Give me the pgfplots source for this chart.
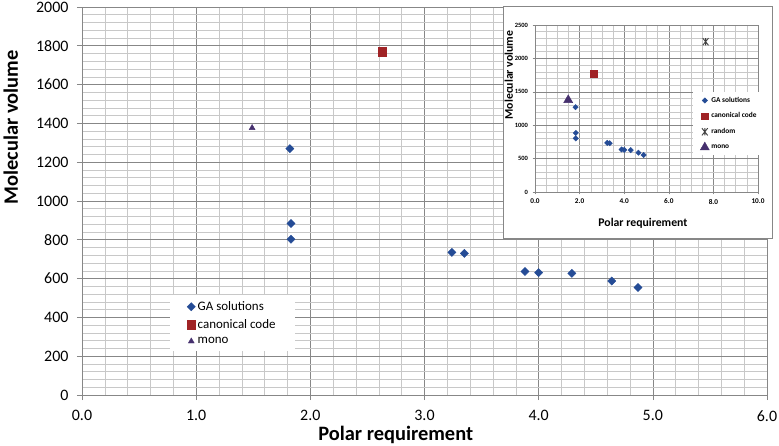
\documentclass[border=0pt]{standalone}
\usepackage{pgfplots}
\pgfplotsset{compat=1.18}
\usepackage{fontspec}
\setmainfont{Carlito}
\definecolor{gablue}{RGB}{37,76,150}
\definecolor{canred}{RGB}{160,35,38}
\definecolor{monopurple}{RGB}{70,48,110}
\definecolor{majgrid}{RGB}{135,135,135}
\definecolor{mingrid}{RGB}{200,200,200}
\pgfdeclareplotmark{xstar}{%
  \pgfpathmoveto{\pgfqpoint{-0.8\pgfplotmarksize}{-\pgfplotmarksize}}%
  \pgfpathlineto{\pgfqpoint{0.8\pgfplotmarksize}{\pgfplotmarksize}}%
  \pgfpathmoveto{\pgfqpoint{-0.8\pgfplotmarksize}{\pgfplotmarksize}}%
  \pgfpathlineto{\pgfqpoint{0.8\pgfplotmarksize}{-\pgfplotmarksize}}%
  \pgfpathmoveto{\pgfqpoint{0pt}{-\pgfplotmarksize}}%
  \pgfpathlineto{\pgfqpoint{0pt}{\pgfplotmarksize}}%
  \pgfusepathqstroke}
\pgfplotsset{
  dotlegend/.style={legend image code/.code={\draw[##1] plot coordinates {(0cm,0cm)};}},
}
\begin{document}
\begin{tikzpicture}
\path[use as bounding box] (0bp,0bp) rectangle (779bp,446bp);
% ---------------- main chart ----------------
\begin{axis}[
  at={(82bp,51bp)}, anchor=south west, scale only axis,
  width=685bp, height=388bp,
  xmin=0, xmax=6, ymin=0, ymax=2000,
  xtick={0,1,...,6}, ytick={0,200,...,2000},
  minor x tick num=4, minor y tick num=4,
  grid=both,
  major grid style={draw=majgrid, line width=0.6bp},
  minor grid style={draw=mingrid, line width=0.6bp},
  axis lines*=left,
  axis line style={draw=majgrid, line width=0.8bp},
  tick align=outside, major tick length=5bp, minor tick length=0pt,
  tick style={draw=majgrid, line width=0.6bp},
  /pgf/number format/assume math mode=true,
  xticklabel style={font=\fontsize{16}{16}\selectfont, yshift=-7bp,
    /pgf/number format/fixed, /pgf/number format/fixed zerofill,
    /pgf/number format/precision=1},
  yticklabel style={font=\fontsize{16}{16}\selectfont, xshift=-5bp,
    /pgf/number format/1000 sep={}},
  xlabel={Polar requirement},
  xlabel style={at={(axis description cs:0.458,-0.103)}, anchor=center,
    font=\fontsize{20.5}{20.5}\selectfont\bfseries},
  ylabel={Molecular volume},
  ylabel style={at={(axis description cs:-0.104,0.69)}, anchor=center,
    font=\fontsize{20.5}{20.5}\selectfont\bfseries},
  legend cell align=left,
  legend style={at={(axis description cs:0.128,0.257)}, anchor=north west,
    draw=none, fill=white, font=\fontsize{13}{15}\selectfont,
    row sep=3.5bp, inner xsep=17bp, inner ysep=4bp},
]
\addplot[only marks, mark=square*, mark options={rotate=45}, mark size=2.9bp, color=gablue, dotlegend]
  coordinates {(1.82,1270) (1.83,884) (1.83,803) (3.24,735) (3.35,730)
               (3.88,637) (4.00,631) (4.29,627) (4.64,588) (4.87,554)};
\addlegendentry{GA solutions}
\addplot[only marks, mark=square*, mark size=4.4bp, color=canred, dotlegend]
  coordinates {(2.63,1769)};
\addlegendentry{canonical code}
\addplot[only marks, mark=triangle*, mark size=3.4bp, color=monopurple, dotlegend]
  coordinates {(1.49,1377)};
\addlegendentry{mono}
\end{axis}
% ---------------- inset chart ----------------
\fill[white] (503bp,208bp) rectangle (772bp,440bp);
\draw[draw=majgrid, line width=0.7bp] (503bp,208bp) rectangle (772bp,440bp);
\begin{axis}[
  at={(535bp,254bp)}, anchor=south west, scale only axis,
  width=223bp, height=167bp,
  xmin=0, xmax=10, ymin=0, ymax=2500,
  xtick={0,2,...,10}, ytick={0,500,...,2500},
  minor x tick num=3, minor y tick num=4,
  grid=both,
  major grid style={draw=majgrid, line width=0.5bp},
  minor grid style={draw=mingrid, line width=0.5bp},
  axis lines*=left,
  axis line style={draw=majgrid, line width=0.6bp},
  tick align=outside, major tick length=2.5bp, minor tick length=0pt,
  tick style={draw=majgrid, line width=0.5bp},
  /pgf/number format/assume math mode=true,
  xticklabel style={font=\fontsize{7.3}{7.3}\selectfont\bfseries, yshift=-1bp,
    /pgf/number format/fixed, /pgf/number format/fixed zerofill,
    /pgf/number format/precision=1},
  yticklabel style={font=\fontsize{6.5}{6.5}\selectfont\bfseries, xshift=-1bp,
    /pgf/number format/1000 sep={}},
  xlabel={Polar requirement},
  xlabel style={at={(axis description cs:0.484,-0.186)}, anchor=center,
    font=\fontsize{11.8}{11.8}\selectfont\bfseries},
  ylabel={Molecular volume},
  ylabel style={at={(axis description cs:-0.118,0.70)}, anchor=center,
    font=\fontsize{11.8}{11.8}\selectfont\bfseries},
  legend cell align=left,
  legend style={at={(axis description cs:0.709,0.599)}, anchor=north west,
    draw=none, fill=white, font=\fontsize{7.4}{9}\selectfont\bfseries,
    row sep=5bp, inner xsep=7bp, inner ysep=3bp},
]
\addplot[only marks, mark=square*, mark options={rotate=45}, mark size=1.9bp, color=gablue, dotlegend]
  coordinates {(1.82,1270) (1.83,884) (1.83,803) (3.24,735) (3.35,730)
               (3.88,637) (4.00,631) (4.29,627) (4.64,588) (4.87,554)};
\addlegendentry{GA solutions}
\addplot[only marks, mark=square*, mark size=3.2bp, color=canred, dotlegend]
  coordinates {(2.63,1769)};
\addlegendentry{canonical code}
\addplot[only marks, mark=xstar, mark size=3.6bp, color=black!75, line width=0.9bp, dotlegend]
  coordinates {(7.65,2250)};
\addlegendentry{random}
\addplot[only marks, mark=triangle*, mark size=5.2bp, color=monopurple, dotlegend]
  coordinates {(1.49,1377)};
\addlegendentry{mono}
\end{axis}
\end{tikzpicture}
\end{document}
